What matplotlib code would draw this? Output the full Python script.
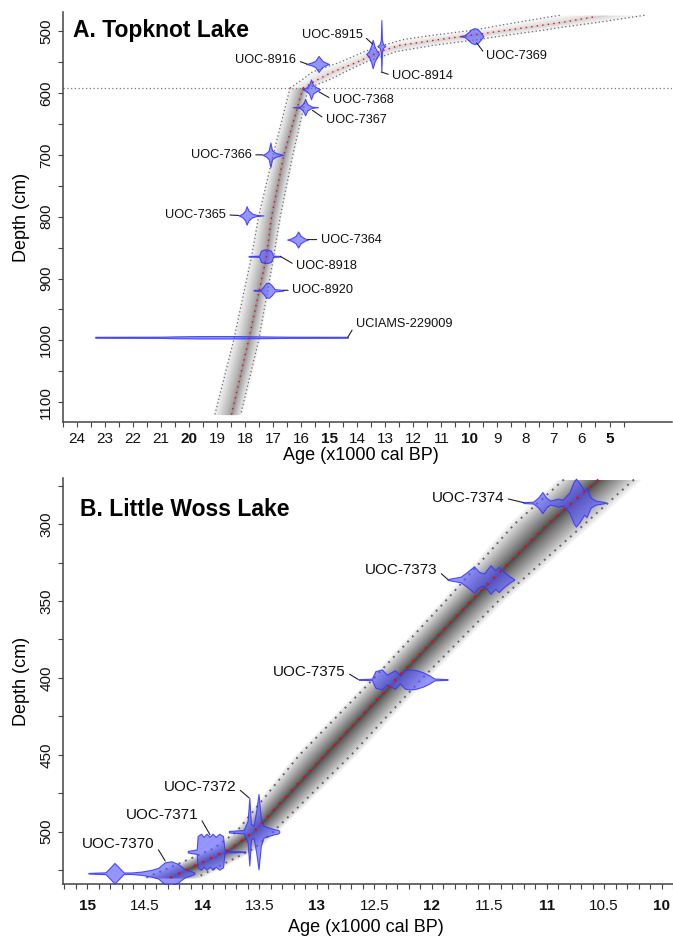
import numpy as np
import matplotlib
matplotlib.use("Agg")
import matplotlib.pyplot as plt

plt.rcParams['font.family'] = ['Liberation Sans', 'DejaVu Sans']

# ---------------- A. Topknot Lake (age in x1000 cal BP, depth in cm) ----------------
# age-depth model above the hiatus
tk_up_depth = [592, 578, 566, 550, 533, 523, 513, 506, 498, 493, 485, 476, 474]
tk_up_mean = [15.94, 15.4, 14.88, 14.0, 13.2, 12.5, 11.0, 9.83, 8.6, 7.8, 6.6, 5.45, 5.2]
tk_up_old = [16.4, 15.95, 15.6, 14.6, 13.75, 13.1, 12.3, 11.2, 9.81, 9.2, 8.2, 7.0, 6.73]
tk_up_young = [15.75, 14.97, 14.45, 13.7, 12.6, 11.3, 9.6, 8.6, 7.3, 6.6, 5.3, 4.0, 3.72]
# age-depth model below the hiatus
tk_lo_depth = [592, 700, 800, 864, 1000, 1120]
tk_lo_mean = [15.94, 16.62, 17.06, 17.24, 17.88, 18.49]
tk_lo_old = [16.4, 17.0, 17.52, 17.77, 18.41, 19.08]
tk_lo_young = [15.75, 16.3, 16.75, 16.98, 17.52, 18.16]
tk_hiatus = 592

tk_labels = ['UOC-8916', 'UOC-8915', 'UOC-8914', 'UOC-7369', 'UOC-7368', 'UOC-7367',
             'UOC-7366', 'UOC-7365', 'UOC-7364', 'UOC-8918', 'UOC-8920', 'UCIAMS-229009']
tk_depths = [553, 537, 524, 508, 594, 623, 700, 798, 837, 864, 919, 995]
tk_pdf_age = [
    [15.83, 15.65, 15.5, 15.38, 15.25, 15.12, 15.01],
    [13.68, 13.58, 13.5, 13.45, 13.38, 13.3, 13.22],
    [13.28, 13.2, 13.16, 13.14, 13.12, 13.08, 13.0],
    [10.3, 10.17, 10.05, 9.93, 9.81, 9.7, 9.6, 9.5],
    [15.95, 15.82, 15.72, 15.65, 15.58, 15.45, 15.33],
    [16.3, 16.05, 15.95, 15.86, 15.78, 15.62, 15.4],
    [17.38, 17.25, 17.16, 17.1, 17.04, 16.9, 16.64],
    [18.23, 18.1, 18.0, 17.95, 17.88, 17.75, 17.6, 17.35],
    [16.5, 16.35, 16.2, 16.11, 16.02, 15.88, 15.76],
    [17.88, 17.5, 17.44, 17.32, 17.2, 17.08, 17.0, 16.75],
    [17.7, 17.45, 17.35, 17.25, 17.15, 17.05, 16.95, 16.64],
    [23.35, 21.0, 20.5, 19.5, 18.5, 17.5, 16.5, 14.34],
]
# half height of each calibrated distribution (cm)
tk_pdf_h = [
    [0, 2, 5, 13, 5, 2, 0],
    [0, 5, 14, 23, 12, 5, 0],
    [0, 3, 10, 42, 10, 3, 0],
    [0.5, 1.5, 6, 11, 13, 11, 6, 0],
    [0, 3, 7, 16, 7, 3, 0],
    [0, 1, 5, 13, 5, 1, 0],
    [0, 3, 7, 20, 7, 3, 0],
    [0, 3, 8, 15, 8, 3, 1, 0],
    [0, 2, 6, 13, 6, 2, 0],
    [0.5, 1, 9, 11, 11, 9, 1, 0.5],
    [0.5, 1, 6, 12, 12, 8, 2, 0.5],
    [0.8, 1, 1.5, 2, 2, 1.5, 1, 0.8],
]

# ---------------- B. Little Woss Lake ----------------
lw_depth = [271, 300, 350, 400, 450, 500, 511, 530]
lw_mean = [10.55, 10.99, 11.66, 12.30, 12.93, 13.55, 13.75, 14.28]
lw_old = [10.85, 11.28, 11.88, 12.50, 13.15, 13.70, 13.90, 14.49]
lw_young = [10.24, 10.67, 11.42, 12.08, 12.70, 13.38, 13.55, 14.05]

lw_labels = ['UOC-7374', 'UOC-7373', 'UOC-7375', 'UOC-7372', 'UOC-7371', 'UOC-7370']
lw_depths = [286, 336, 401, 500, 513, 527]
lw_pdf_age = [
    [11.203, 11.117, 11.074, 11.037, 11.003, 10.968, 10.902, 10.86, 10.802, 10.765, 10.745,
     10.716, 10.673, 10.653, 10.616, 10.573, 10.487],
    [11.862, 11.75, 11.69, 11.632, 11.589, 11.546, 11.489, 11.446, 11.417, 11.374,
     11.318, 11.284],
    [12.635, 12.52, 12.491, 12.434, 12.391, 12.32, 12.277, 12.234, 12.191, 12.133,
     12.077, 12.019, 11.976, 11.862],
    [13.766, 13.637, 13.603, 13.588, 13.574, 13.551, 13.528, 13.508, 13.488, 13.465,
     13.422, 13.379, 13.336, 13.327],
    [14.124, 14.046, 14.038, 14.009, 13.986, 13.96, 13.932, 13.909, 13.88, 13.851,
     13.817, 13.803, 13.623],
    [14.989, 14.84, 14.797, 14.762, 14.725, 14.682, 14.611, 14.525, 14.439, 14.381,
     14.324, 14.267, 14.21, 14.152, 14.066],
]
lw_pdf_h = [
    [0.3, 0.6, 3.2, 6.9, 3.2, 1.3, 2.6, 1.9, 6.5, 13.5, 15.6, 13.0, 7.8, 9.5, 3.2, 1.3, 0.3],
    [0.3, 1.8, 5.0, 8.6, 5.0, 3.9, 9.3, 6.0, 8.2, 5.0, 1.8, 0.3],
    [0.2, 0.5, 5.4, 6.5, 3.2, 6.0, 2.6, 6.0, 6.5, 6.0, 4.7, 2.6, 0.6, 0.2],
    [0.5, 1.1, 7.1, 22, 5.0, 3.9, 13.6, 24.5, 9.3, 3.9, 2.8, 1.8, 1.1, 0.2],
    [0.5, 1.5, 10.2, 11.7, 9.7, 11.7, 9.7, 11.7, 9.7, 11.7, 10.2, 0.5, 0.2],
    [0.2, 0.6, 3.9, 6.7, 3.9, 0.5, 0.5, 1.1, 2.2, 3.5, 7.1, 7.8, 6.1, 2.8, 0.5],
]

# label placement: (text age, text depth, side, leader end age, leader end depth)
tk_label_pos = [
    (16.18, 547, 'right', 15.8, 553),
    (13.81, 506, 'right', 13.45, 521),
    (12.75, 572, 'left', 13.14, 566),
    (9.39, 540, 'left', 9.74, 519),
    (14.87, 611, 'left', 15.37, 598),
    (15.12, 643, 'left', 15.6, 628),
    (17.77, 700, 'right', 17.38, 700),
    (18.69, 797, 'right', 18.23, 798),
    (15.3, 837, 'left', 15.76, 837),
    (16.18, 879, 'left', 16.75, 864),
    (16.32, 919, 'left', 16.64, 919),
    (14.06, 974, 'left', 14.34, 995),
]
lw_label_pos = [
    (11.37, 283, 'right', 11.2, 286),
    (11.95, 330, 'right', 11.86, 336),
    (12.75, 396, 'right', 12.64, 401),
    (13.70, 471, 'right', 13.59, 478),
    (14.03, 489, 'right', 13.93, 502),
    (14.41, 508, 'right', 14.32, 519),
]

AXC = '#444444'
PDF_FACE = (0.33, 0.33, 1.0, 0.62)
PDF_EDGE = (0.2, 0.2, 1.0, 0.85)


def draw_band(ax, depth, mean, old, young, color, alpha, n, lw, dots, width=1.15):
    depth, mean, old, young = map(np.asarray, (depth, mean, old, young))
    # stacked translucent bands give the grey-scale probability look
    for f in width * np.linspace(1.0, 0.03, n) ** 1.6:
        ax.fill_betweenx(depth, mean + f * (old - mean), mean - f * (mean - young),
                         color=color, alpha=alpha, lw=0, zorder=1)
    ax.plot(old, depth, color='#666666', lw=lw, ls=(0, dots), zorder=2)
    ax.plot(young, depth, color='#666666', lw=lw, ls=(0, dots), zorder=2)


def draw_dates(ax, depths, ages, heights, labels, places, fs):
    for d, a, h, lab, p in zip(depths, ages, heights, labels, places):
        a = np.asarray(a)
        h = np.asarray(h)
        ax.fill_between(a, d - h, d + h, facecolor=PDF_FACE, edgecolor=PDF_EDGE,
                        lw=0.8, zorder=3)
        tx, ty, side, px, py = p
        rel = (1, 0.5) if side == 'right' else (0, 0.5)
        ax.annotate(lab, xy=(px, py), xytext=(tx, ty), ha=side, va='center',
                    fontsize=fs, color='#111111', zorder=5,
                    arrowprops=dict(arrowstyle='-', color='#222222', lw=0.8,
                                    relpos=rel, shrinkA=1, shrinkB=0))


def style_axes(ax):
    for s in ('top', 'right'):
        ax.spines[s].set_visible(False)
    for s in ('left', 'bottom'):
        ax.spines[s].set_color(AXC)
        ax.spines[s].set_linewidth(1.1)
    ax.tick_params(which='both', direction='out', length=3.6, width=0.8,
                   color=AXC, labelsize=11, labelcolor='#111111')


fig = plt.figure(figsize=(6.73, 9.36), dpi=100)

# ---------------- panel A ----------------
ax1 = fig.add_axes([63 / 673, 1 - 422 / 936, 609 / 673, 410 / 936])
style_axes(ax1)
draw_band(ax1, tk_lo_depth, tk_lo_mean, tk_lo_old, tk_lo_young, '#444444', 0.045, 18, 0.9, (1, 2))
draw_band(ax1, tk_up_depth, tk_up_mean, tk_up_old, tk_up_young, '#777777', 0.03, 12, 0.9, (1, 2))
ax1.axhline(tk_hiatus, color='#777777', lw=0.9, ls=(0, (1, 2)), zorder=2)
draw_dates(ax1, tk_depths, tk_pdf_age, tk_pdf_h, tk_labels, tk_label_pos, 9.2)
ax1.plot(tk_lo_mean, tk_lo_depth, color='red', lw=1.0, ls=(0, (1, 3)), zorder=4)
ax1.plot(tk_up_mean[:-1], tk_up_depth[:-1], color='red', lw=1.0, ls=(0, (1, 3)), zorder=4)

ax1.set_xlim(24.32, 2.77)
ax1.set_ylim(1132, 469)
xt = list(range(5, 25))
ax1.set_xticks(xt, labels=[str(v) for v in xt])
ax1.set_xticks(np.arange(4.5, 24.6, 1.0), minor=True)
for lbl, v in zip(ax1.get_xticklabels(), xt):
    if v % 5 == 0:
        lbl.set_fontweight('bold')
yt = list(range(500, 1101, 100))
ax1.set_yticks(yt, labels=[str(v) for v in yt], rotation=90, va='center')
ax1.set_yticks(range(550, 1101, 100), minor=True)
ax1.tick_params(axis='both', pad=3.5)
ax1.text(0.016, 0.939, 'A. Topknot Lake', transform=ax1.transAxes, fontsize=16.5,
         fontweight='bold', va='baseline', ha='left')

# ---------------- panel B ----------------
ax2 = fig.add_axes([63 / 673, 1 - 884 / 936, 610 / 673, 406 / 936])
style_axes(ax2)
draw_band(ax2, lw_depth, lw_mean, lw_old, lw_young, '#000000', 0.05, 22, 1.4, (1, 2.6), 1.2)
draw_dates(ax2, lw_depths, lw_pdf_age, lw_pdf_h, lw_labels, lw_label_pos, 11)
ax2.plot(lw_mean, lw_depth, color='red', lw=1.6, ls=(0, (1, 3)), zorder=4)

ax2.set_xlim(15.21, 9.94)
ax2.set_ylim(534, 270)
xt2 = [10 + 0.5 * i for i in range(11)]
ax2.set_xticks(xt2, labels=[('%d' % v) if v == int(v) else ('%.1f' % v) for v in xt2])
ax2.set_xticks(np.arange(9.9, 15.25, 0.1), minor=True)
for lbl, v in zip(ax2.get_xticklabels(), xt2):
    if v == int(v):
        lbl.set_fontweight('bold')
yt2 = [300, 350, 400, 450, 500]
ax2.set_yticks(yt2, labels=[str(v) for v in yt2], rotation=90, va='center')
ax2.set_yticks([275, 325, 375, 425, 475, 525], minor=True)
ax2.tick_params(axis='x', pad=7)
ax2.tick_params(axis='y', pad=3.5)
ax2.text(0.028, 0.906, 'B. Little Woss Lake', transform=ax2.transAxes, fontsize=16.5,
         fontweight='bold', va='baseline', ha='left')

# axis titles
fig.text(22 / 673, 1 - 217 / 936, 'Depth (cm)', rotation=90, ha='center', va='center', fontsize=13)
fig.text(361 / 673, 1 - 455 / 936, 'Age (x1000 cal BP)', ha='center', va='center', fontsize=13)
fig.text(22 / 673, 1 - 681 / 936, 'Depth (cm)', rotation=90, ha='center', va='center', fontsize=13)
fig.text(366 / 673, 1 - 927 / 936, 'Age (x1000 cal BP)', ha='center', va='center', fontsize=13)

fig.savefig('out.png', dpi=100)
